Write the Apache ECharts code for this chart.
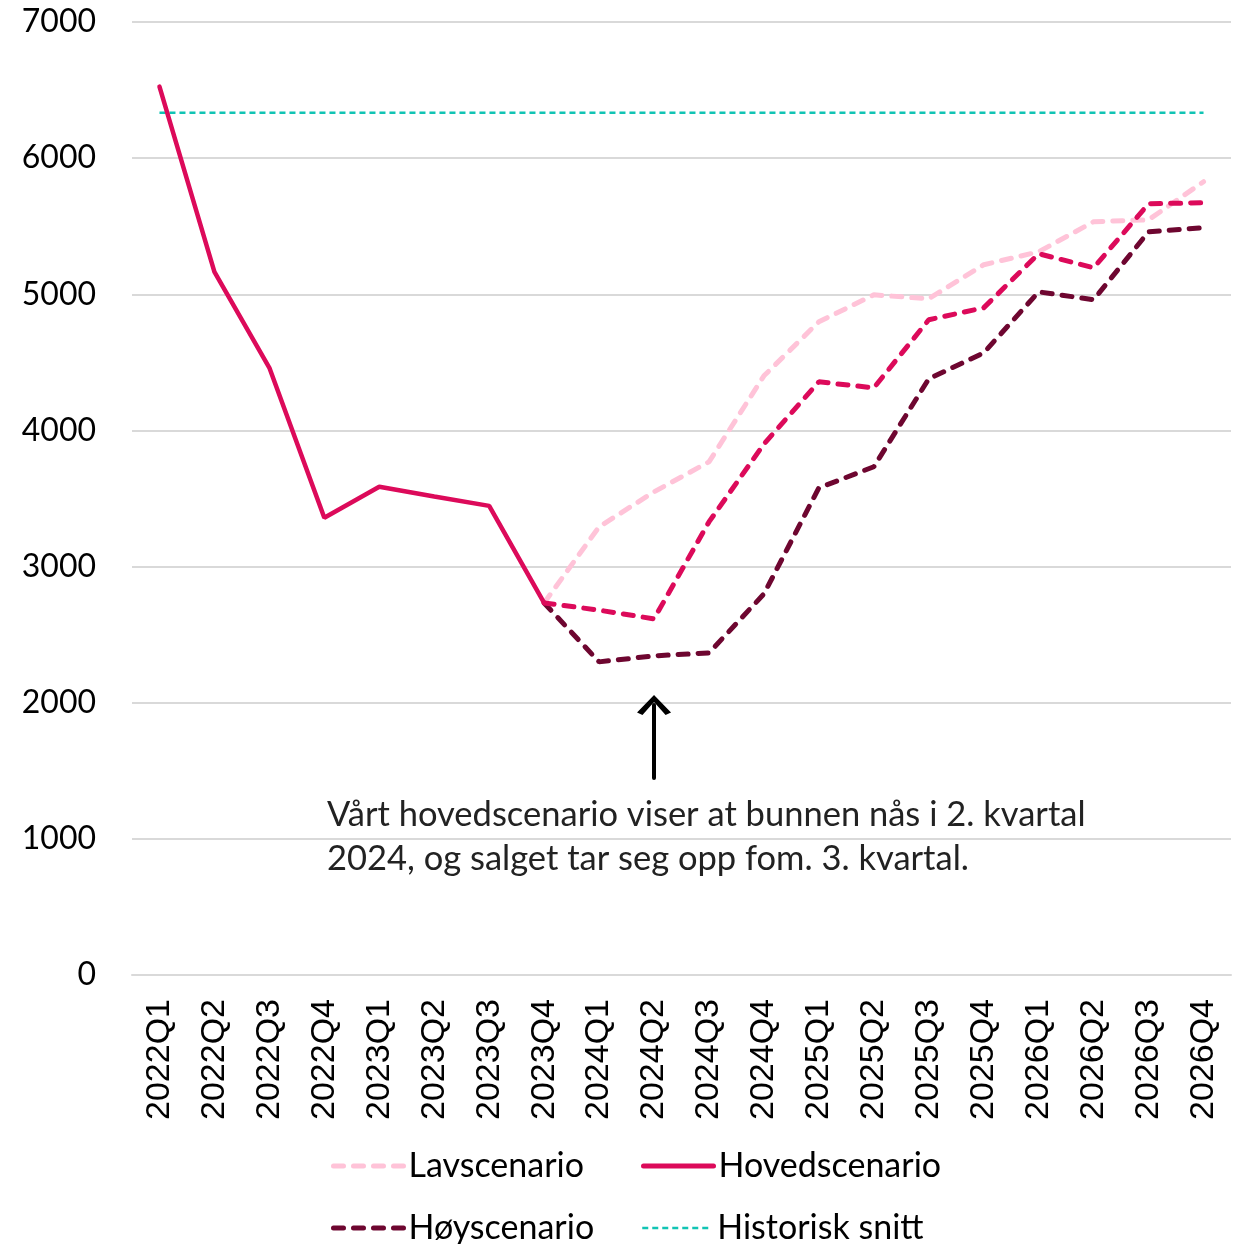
<!DOCTYPE html>
<html>
<head>
<meta charset="utf-8">
<script src="https://cdn.jsdelivr.net/npm/echarts@6/dist/echarts.min.js"></script>
<style>
  html, body { margin: 0; padding: 0; background: #fff; }
  #chart { width: 1243px; height: 1244px; }
</style>
</head>
<body>
<div id="chart"></div>
<script>
// kvartaler
const categories = [
  '2022Q1', '2022Q2', '2022Q3', '2022Q4',
  '2023Q1', '2023Q2', '2023Q3', '2023Q4',
  '2024Q1', '2024Q2', '2024Q3', '2024Q4',
  '2025Q1', '2025Q2', '2025Q3', '2025Q4',
  '2026Q1', '2026Q2', '2026Q3', '2026Q4'
]

// faktisk utvikling (heltrukket)
const hovedFaktisk = [6525, 5165, 4460, 3358, 3586, 3515, 3446, 2733,
  null, null, null, null, null, null, null, null, null, null, null, null]

// prognoser (stiplet), starter i 2023Q4
const hovedPrognose = [null, null, null, null, null, null, null, 2733,
  2680, 2616, 3328, 3900, 4357, 4313, 4813, 4901, 5298, 5195, 5665, 5672]
const lavscenario = [null, null, null, null, null, null, null, 2733,
  3292, 3549, 3769, 4401, 4798, 4996, 4967, 5217, 5312, 5533, 5547, 5827]
const hoyscenario = [null, null, null, null, null, null, null, 2733,
  2300, 2344, 2366, 2799, 3578, 3733, 4379, 4570, 5018, 4960, 5459, 5489]

const historiskSnitt = 6334
const yTicks = [0, 1000, 2000, 3000, 4000, 5000, 6000, 7000]

const annotationLines = [
  'Vårt hovedscenario viser at bunnen nås i 2. kvartal',
  '2024, og salget tar seg opp fom. 3. kvartal.'
]

const colors = {
  lav: '#ffc3d8',
  hoved: '#dc0a5a',
  hoy: '#6e0630',
  snitt: '#10c4b4'
}

const font = 'Lato, "Noto Sans", sans-serif'

const chart = echarts.init(document.getElementById('chart'))

// én legend per element, slik at kolonnene står rett under hverandre
const legendItem = (name, left, top, lineWidth) => ({
  left: left,
  top: top,
  padding: 0,
  itemWidth: 70,
  itemHeight: 14,
  itemGap: 0,
  data: [name],
  itemStyle: { opacity: 0 },
  lineStyle: { width: lineWidth },
  textStyle: { fontSize: 34, fontFamily: font, color: '#000' }
})

const option = {
  animation: false,
  grid: {
    left: 132,
    right: 12,
    top: 22,
    bottom: 269,
    containLabel: false
  },
  legend: [
    legendItem('Lavscenario', 331, 1149, 5),
    legendItem('Hovedscenario', 641, 1149, 5),
    legendItem('Høyscenario', 331, 1211, 5),
    legendItem('Historisk snitt', 641, 1211, 2.5)
  ],
  xAxis: {
    type: 'category',
    data: categories,
    boundaryGap: true,
    axisLine: { show: true, lineStyle: { color: '#d9d9d9', width: 2 } },
    axisTick: { show: false },
    axisLabel: {
      rotate: 90,
      interval: 0,
      margin: 24,
      color: '#000',
      fontSize: 34,
      fontFamily: '"Liberation Sans", Arial, sans-serif'
    }
  },
  yAxis: {
    type: 'value',
    min: yTicks[0],
    max: yTicks[yTicks.length - 1],
    interval: 1000,
    axisLine: { show: false },
    axisTick: { show: false },
    axisLabel: {
      margin: 36,
      color: '#000',
      fontSize: 32,
      fontFamily: font,
      formatter: v => String(v)
    },
    splitLine: { show: true, lineStyle: { color: '#d9d9d9', width: 2 } }
  },
  series: [
    {
      name: 'Lavscenario',
      type: 'line',
      data: lavscenario,
      symbol: 'none',
      color: colors.lav,
      lineStyle: { width: 5, type: [10, 10], cap: 'round', color: colors.lav },
      z: 2
    },
    {
      name: 'Hovedscenario',
      type: 'line',
      data: hovedFaktisk,
      symbol: 'none',
      color: colors.hoved,
      lineStyle: { width: 4.5, cap: 'round', color: colors.hoved },
      z: 4
    },
    {
      name: 'Hovedprognose',
      type: 'line',
      data: hovedPrognose,
      symbol: 'none',
      color: colors.hoved,
      lineStyle: { width: 5, type: [10, 10], cap: 'round', color: colors.hoved },
      z: 3,
      markLine: {
        silent: true,
        symbol: ['none', 'path://M0,9 L5,0 L10,9 L8.4,10.2 L5,3.6 L1.6,10.2 Z'],
        symbolSize: [34, 20],
        label: { show: false },
        lineStyle: { color: '#000', width: 4, type: 'solid', cap: 'round' },
        data: [[
          { coord: ['2024Q2', 1447] },
          { coord: ['2024Q2', 1984] }
        ]]
      }
    },
    {
      name: 'Høyscenario',
      type: 'line',
      data: hoyscenario,
      symbol: 'none',
      color: colors.hoy,
      lineStyle: { width: 5, type: [10, 10], cap: 'round', color: colors.hoy },
      z: 2
    },
    {
      name: 'Historisk snitt',
      type: 'line',
      data: categories.map(() => historiskSnitt),
      symbol: 'none',
      color: colors.snitt,
      lineStyle: { width: 2.5, type: [6, 4], color: colors.snitt },
      z: 1
    }
  ],
  graphic: annotationLines.map((line, i) => ({
    type: 'text',
    left: 327,
    top: 797 + i * 44,
    style: {
      text: line,
      fill: '#222',
      font: '34.5px ' + font
    }
  }))
}

option && chart.setOption(option)
</script>
</body>
</html>
